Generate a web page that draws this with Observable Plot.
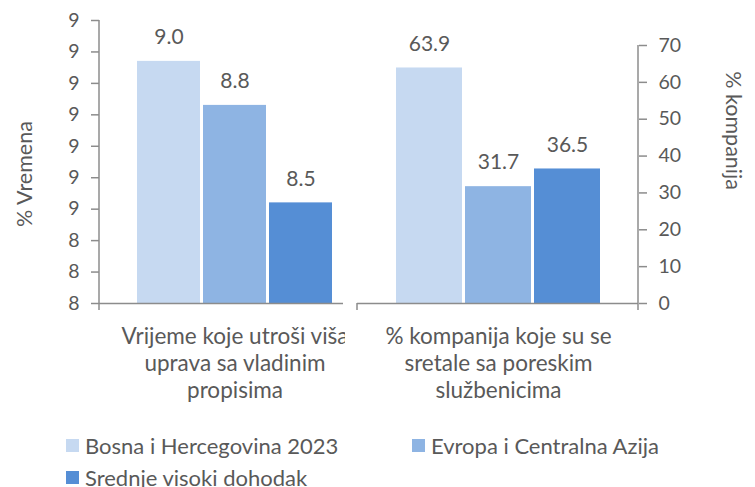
<!DOCTYPE html>
<html>
<head>
<meta charset="utf-8">
<script src="https://cdn.jsdelivr.net/npm/d3@7"></script>
<script src="https://cdn.jsdelivr.net/npm/@observablehq/plot@0.6"></script>
<style>
  body { margin: 0; background: #fff; font-family: Lato, "Open Sans", sans-serif; }
  #wrap { position: relative; width: 755px; height: 487px; overflow: hidden; background: #fff; }
  #charts { display: flex; }
  #charts svg { overflow: hidden; }
  #legend { position: absolute; left: 66px; top: 431px; display: grid; grid-template-columns: 346px auto; row-gap: 4px;
            font-size: 22px; color: #595959; }
  .item { display: flex; align-items: center; height: 28px; white-space: nowrap; }
  .sw { width: 13px; height: 13px; margin-right: 6px; flex: none; }
</style>
</head>
<body>
<div id="wrap"><div id="charts"></div><div id="legend"></div></div>
<script>
const series = ["Bosna i Hercegovina 2023", "Evropa i Centralna Azija", "Srednje visoki dohodak"];
const colors = ["#c6d9f1", "#8eb4e3", "#558ed5"];
const timeValues = [8.97, 8.83, 8.52];
const companyValues = [63.9, 31.7, 36.5];
const timeTicks = [8.2, 8.3, 8.4, 8.5, 8.6, 8.7, 8.8, 8.9, 9.0, 9.1];
const companyTicks = [0, 10, 20, 30, 40, 50, 60, 70];
const timeCategory = "Vrijeme koje utroši viša\nuprava sa vladinim\npropisima";
const companyCategory = "% kompanija koje su se\nsretale sa poreskim\nslužbenicima";
const timeTitle = "% Vremena";
const companyTitle = "% kompanija";

const TEXT = "#595959";
const AXIS = "#8c8c8c";
const FONT = "Lato, 'Open Sans', sans-serif";

const timeData = series.map((s, i) => ({series: s, value: timeValues[i]}));
const companyData = series.map((s, i) => ({series: s, value: companyValues[i]}));

// decorative axis lines drawn from the plot's frame dimensions
function axisLines(sides) {
  return (index, scales, values, dim) => {
    const L = dim.marginLeft, R = dim.width - dim.marginRight;
    const T = dim.marginTop, B = dim.height - dim.marginBottom;
    const g = d3.create("svg:g").attr("stroke", AXIS).attr("stroke-width", 1.5).attr("fill", "none");
    if (sides.includes("left")) g.append("line").attr("x1", L).attr("x2", L).attr("y1", T).attr("y2", B + 7);
    if (sides.includes("right")) g.append("line").attr("x1", R).attr("x2", R).attr("y1", T).attr("y2", B + 7);
    if (sides.includes("tickLeft")) g.append("line").attr("x1", L).attr("x2", L).attr("y1", B).attr("y2", B + 7);
    return g.node();
  };
}

const common = {
  height: 420,
  marginBottom: 117,
  style: {fontFamily: FONT, color: TEXT, background: "transparent", overflow: "hidden"},
  color: {domain: series, range: colors}
};

const left = Plot.plot({
  ...common,
  width: 345,
  marginLeft: 99,
  marginRight: 2,
  marginTop: 20,
  x: {type: "band", domain: series, range: [136, 333], paddingInner: 0.045, paddingOuter: 0, axis: null},
  y: {domain: [timeTicks[0], timeTicks[timeTicks.length - 1]]},
  marks: [
    Plot.barY(timeData, {x: "series", y1: timeTicks[0], y2: "value", fill: "series"}),
    Plot.ruleY([timeTicks[0]], {stroke: AXIS, strokeWidth: 1.5}),
    axisLines(["left"]),
    Plot.axisY({ticks: timeTicks, tickFormat: d => String(Math.round(d)), tickSize: 8, tickPadding: 12,
                fontSize: 19.5, stroke: AXIS, strokeWidth: 1.5, fill: TEXT, label: null}),
    Plot.text(timeData, {x: "series", y: "value", text: d => d.value.toFixed(1), dy: -24, fontSize: 21, fill: TEXT}),
    Plot.text([timeCategory], {x: () => series[1], frameAnchor: "bottom", lineAnchor: "top", dy: 21,
                               fontSize: 22.5, lineHeight: 1.2, fill: TEXT}),
    Plot.text([timeTitle], {frameAnchor: "left", textAnchor: "middle", rotate: -90, dx: -74, dy: 12, fontSize: 21.5, fill: TEXT})
  ]
});

const right = Plot.plot({
  ...common,
  width: 410,
  marginLeft: 12,
  marginRight: 117,
  marginTop: 45,
  x: {type: "band", domain: series, range: [50, 255], paddingInner: 0.045, paddingOuter: 0, axis: null},
  y: {domain: [0, 70]},
  marks: [
    Plot.barY(companyData, {x: "series", y: "value", fill: "series"}),
    Plot.ruleY([0], {stroke: AXIS, strokeWidth: 1.5}),
    axisLines(["right", "tickLeft"]),
    Plot.axisY({anchor: "right", ticks: companyTicks, tickSize: 8, tickPadding: 12,
                fontSize: 19.5, stroke: AXIS, strokeWidth: 1.5, fill: TEXT, label: null}),
    Plot.text(companyData, {x: "series", y: "value", text: d => d.value.toFixed(1), dy: -24, fontSize: 21, fill: TEXT}),
    Plot.text([companyCategory], {x: () => series[1], frameAnchor: "bottom", lineAnchor: "top", dy: 21,
                                  fontSize: 22.5, lineHeight: 1.2, fill: TEXT}),
    Plot.text([companyTitle], {frameAnchor: "right", textAnchor: "middle", rotate: 90, dx: 94, dy: -44, fontSize: 21.5, fill: TEXT})
  ]
});

document.getElementById("charts").append(left, right);

const legend = d3.select("#legend");
series.forEach((s, i) => {
  const item = legend.append("div").attr("class", "item");
  item.append("div").attr("class", "sw").style("background", colors[i]);
  item.append("span").text(s);
});
</script>
</body>
</html>
